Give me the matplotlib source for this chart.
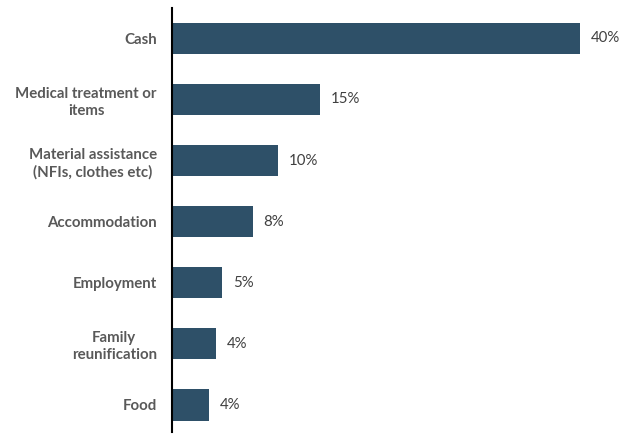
import numpy as np
import matplotlib
matplotlib.use("Agg")
import matplotlib.pyplot as plt

# data
categories = ["Cash", "Medical treatment or\nitems", "Material assistance\n(NFIs, clothes etc)",
              "Accommodation", "Employment", "Family\nreunification", "Food"]
values = [40.0, 14.5, 10.4, 7.9, 4.9, 4.3, 3.6]
labels = ["40%", "15%", "10%", "8%", "5%", "4%", "4%"]

plt.rcParams['font.family'] = ['Lato', 'DejaVu Sans']

fig = plt.figure(figsize=(6.28, 4.34), dpi=100)
ax = fig.add_axes([0.274, 0.005, 0.726, 0.977])

y = np.arange(len(categories))
ax.barh(y, values, height=0.51, color="#2E5068")

for yi, v, lab in zip(y, values, labels):
    ax.text(v + 1.05, yi, lab, va="center", ha="left", fontsize=10.8, color="#404040")

ax.set_yticks(y)
ax.set_yticklabels(categories, fontsize=10.8, fontweight="bold", color="#595959",
                   ha="right", multialignment="center", linespacing=1.25)
ax.tick_params(axis="y", length=0, pad=11)
ax.set_xticks([])
ax.set_xlim(0, 44.7)
ax.set_ylim(6.44, -0.5)
for s in ["top", "right", "bottom"]:
    ax.spines[s].set_visible(False)
ax.spines["left"].set_linewidth(1.5)
ax.spines["left"].set_color("black")

fig.savefig("out.png", dpi=100)
